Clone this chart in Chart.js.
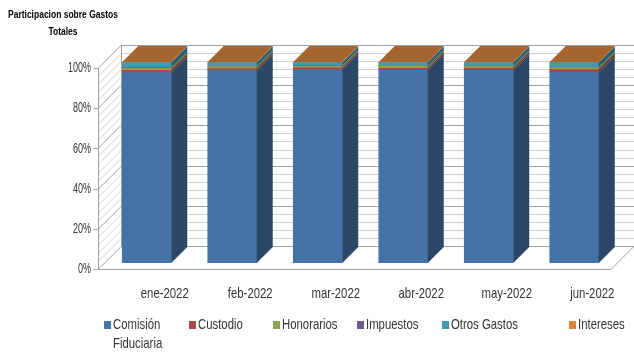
<!DOCTYPE html>
<html>
<head>
<meta charset="utf-8">
<script src="https://cdn.jsdelivr.net/npm/chart.js@4/dist/chart.umd.min.js"></script>
<style>
  html, body { margin: 0; padding: 0; background: #fff; }
  #wrap { width: 634px; height: 356px; }
</style>
</head>
<body>
<div id="wrap"><canvas id="myChart"></canvas></div>
<script>
// data (percent of total)
const categorias = ['ene-2022', 'feb-2022', 'mar-2022', 'abr-2022', 'may-2022', 'jun-2022'];
const comision   = [94.7, 95.7, 96.1, 95.9, 95.8, 94.9];
const custodio   = [1.2, 1.0, 1.0, 1.0, 1.0, 1.3];
const honorarios = [1.0, 1.0, 0.8, 0.9, 0.9, 1.0];
const impuestos  = [0.3, 0.2, 0.2, 0.2, 0.2, 0.2];
const otros      = [2.5, 1.8, 1.6, 1.7, 1.8, 2.3];
const intereses  = [0.3, 0.3, 0.3, 0.3, 0.3, 0.3];
const yTicks     = [0, 20, 40, 60, 80, 100];
const nombres    = ['Comisión Fiduciaria', 'Custodio', 'Honorarios', 'Impuestos', 'Otros Gastos', 'Intereses'];
const colores    = ['#4572A7', '#AA4643', '#89A54E', '#71588F', '#4198AF', '#DB843D'];

const FONT = "'Liberation Sans', Arial, sans-serif";
const WALL = 23;      // depth of the walls
const SHIFT = 6;      // bars sit back from the front plane
const BAR_D = 16;     // depth of a bar
const TEXT = '#333333';

function shade(hex, k) {
  const n = parseInt(hex.slice(1), 16);
  const r = Math.round(((n >> 16) & 255) * k);
  const g = Math.round(((n >> 8) & 255) * k);
  const b = Math.round((n & 255) * k);
  return 'rgb(' + r + ',' + g + ',' + b + ')';
}

// narrow looking text: squeeze it sideways
function narrow(ctx, text, x, y, align, k) {
  ctx.save();
  ctx.translate(x, y);
  ctx.scale(k, 1);
  ctx.textAlign = align;
  ctx.fillText(text, 0, 0);
  ctx.restore();
}

// walls, floor and grid, then shift the bars back
const walls = {
  id: 'walls',
  beforeDatasetsDraw(chart) {
    const ctx = chart.ctx;
    const a = chart.chartArea;
    const y = chart.scales.y;
    ctx.save();
    ctx.lineWidth = 1;
    for (let v = 0; v <= 100; v += 4) {
      const py = Math.round(y.getPixelForValue(v)) + 0.5;
      ctx.strokeStyle = v % 20 === 0 ? '#A0A0A0' : '#CFCFCF';
      ctx.beginPath();
      ctx.moveTo(a.left, py);
      ctx.lineTo(a.left + WALL, py - WALL);
      ctx.lineTo(a.right + WALL, py - WALL);
      ctx.stroke();
    }
    ctx.strokeStyle = '#A0A0A0';
    const L = Math.round(a.left) + 0.5;
    const B = Math.round(a.bottom) + 0.5;
    const T = Math.round(a.top) + 0.5;
    ctx.beginPath();
    ctx.moveTo(L + WALL, T - WALL);
    ctx.lineTo(L + WALL, B - WALL);
    ctx.moveTo(L, T);
    ctx.lineTo(L, B);
    ctx.lineTo(a.right, B);
    ctx.lineTo(a.right + WALL, B - WALL);
    ctx.stroke();
    yTicks.forEach(v => {
      const py = Math.round(y.getPixelForValue(v)) + 0.5;
      ctx.beginPath();
      ctx.moveTo(L - 5, py);
      ctx.lineTo(L, py);
      ctx.stroke();
    });
    ctx.restore();
    ctx.save();
    ctx.translate(SHIFT, -SHIFT);
  },
  afterDatasetsDraw(chart) {
    const ctx = chart.ctx;
    const n = chart.data.datasets.length;
    chart.data.datasets.forEach((ds, i) => {
      const meta = chart.getDatasetMeta(i);
      meta.data.forEach(bar => {
        const right = bar.x + bar.width / 2;
        const left = bar.x - bar.width / 2;
        const top = Math.min(bar.y, bar.base);
        const bottom = Math.max(bar.y, bar.base);
        ctx.fillStyle = shade(ds.backgroundColor, 0.62);
        ctx.beginPath();
        ctx.moveTo(right, top);
        ctx.lineTo(right + BAR_D, top - BAR_D);
        ctx.lineTo(right + BAR_D, bottom - BAR_D);
        ctx.lineTo(right, bottom);
        ctx.closePath();
        ctx.fill();
        if (i === n - 1) {
          ctx.fillStyle = shade(ds.backgroundColor, 0.76);
          ctx.beginPath();
          ctx.moveTo(left, top);
          ctx.lineTo(left + BAR_D, top - BAR_D);
          ctx.lineTo(right + BAR_D, top - BAR_D);
          ctx.lineTo(right, top);
          ctx.closePath();
          ctx.fill();
        }
      });
    });
    ctx.restore();
  }
};

// axis labels, title and legend as squeezed text
const extras = {
  id: 'extras',
  afterDraw(chart) {
    const ctx = chart.ctx;
    const a = chart.chartArea;
    const xs = chart.scales.x;
    const ys = chart.scales.y;
    ctx.save();
    ctx.textBaseline = 'middle';

    ctx.font = '15px ' + FONT;
    ctx.fillStyle = TEXT;
    const k = 48 / ctx.measureText('ene-2022').width;
    const ky = 23 / ctx.measureText('100%').width;
    categorias.forEach((c, i) => narrow(ctx, c, xs.getPixelForValue(i) + 24, 294, 'center', k));
    yTicks.forEach(v => narrow(ctx, v + '%', a.left - 7, ys.getPixelForValue(v), 'right', ky));

    ctx.fillStyle = '#000';
    ctx.font = 'bold 11px ' + FONT;
    const kt = 110 / ctx.measureText('Participacion sobre Gastos').width;
    narrow(ctx, 'Participacion sobre Gastos', 63, 15, 'center', kt);
    narrow(ctx, 'Totales', 63, 32, 'center', kt);

    const lx = [104, 189, 273, 357, 442, 569];
    ctx.font = '15px ' + FONT;
    chart.data.datasets.forEach((ds, i) => {
      ctx.fillStyle = ds.backgroundColor;
      ctx.fillRect(lx[i], 321, 7, 8);
      ctx.fillStyle = TEXT;
      const words = ds.label === 'Comisión Fiduciaria' ? ['Comisión', 'Fiduciaria'] : [ds.label];
      words.forEach((w, j) => narrow(ctx, w, lx[i] + 9, 325 + j * 19, 'left', k));
    });
    ctx.restore();
  }
};

const valores = [comision, custodio, honorarios, impuestos, otros, intereses];

const data = {
  labels: categorias,
  datasets: nombres.map((nombre, i) => ({
    label: nombre,
    data: valores[i],
    backgroundColor: colores[i],
    borderWidth: 0,
    barThickness: 49
  }))
};

const config = {
  type: 'bar',
  data,
  options: {
    responsive: false,
    animation: false,
    layout: { padding: { top: 68, right: 23, left: 0, bottom: 0 } },
    plugins: {
      legend: { display: false },
      title: { display: false },
      tooltip: { enabled: false }
    },
    scales: {
      x: {
        stacked: true,
        grid: { display: false, drawTicks: false },
        border: { display: false },
        ticks: { display: false },
        afterFit(scale) { scale.height = 87; }
      },
      y: {
        stacked: true,
        min: 0,
        max: 100,
        grid: { display: false, drawTicks: false },
        border: { display: false },
        ticks: { display: false, stepSize: 20 },
        afterFit(scale) { scale.width = 98; }
      }
    }
  },
  plugins: [walls, extras]
};

const canvas = document.getElementById('myChart');
canvas.width = 634;
canvas.height = 356;
const myChart = new Chart(canvas, config);
</script>
</body>
</html>
